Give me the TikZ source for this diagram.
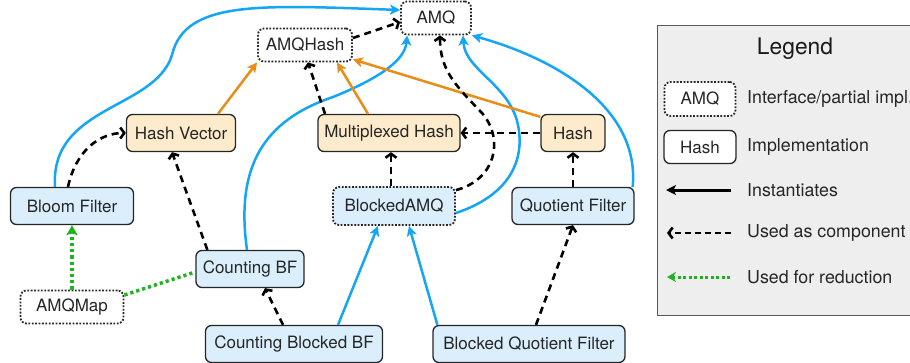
\documentclass[tikz,border=0pt]{standalone}
\usepackage{fontspec}
\setmainfont{TeX Gyre Heros}
\usetikzlibrary{arrows.meta}
\definecolor{filterblue}{HTML}{DAEEFC}
\definecolor{hashorange}{HTML}{FDEBCC}
\definecolor{linkblue}{HTML}{14A6F5}
\definecolor{linkorange}{HTML}{E88D17}
\definecolor{linkgreen}{HTML}{1FB31F}
\definecolor{legendgray}{HTML}{EEEEEE}
\begin{document}
\begin{tikzpicture}[x=1pt,y=-1pt,
    box/.style={draw=black!85,line width=1.3pt,rounded corners=6pt,inner sep=0pt,
        minimum height=37pt,text=black!85,font=\fontsize{17}{20}\selectfont},
    iface/.style={box,line width=1.8pt,dash pattern=on 1.8pt off 1.6pt},
    filterbox/.style={box,fill=filterblue},
    hashbox/.style={box,fill=hashorange},
    inst/.style={line width=2.5pt,-{Stealth[length=10pt,width=10pt,inset=2.5pt]}},
    uses/.style={line width=2.6pt,dash pattern=on 7pt off 5pt,
        -{Straight Barb[length=4pt,width=11pt]}},
    reduce/.style={line width=3.5pt,linkgreen,dash pattern=on 3.2pt off 3pt},
    keytext/.style={anchor=west,inner sep=0pt,text=black!85,font=\fontsize{17.8}{20}\selectfont}]
    \useasboundingbox (0,0) rectangle (910,362);

    \draw[draw=black!65,fill=legendgray,line width=1pt] (657,25) rectangle (915,315);
    \node[text=black!90,font=\fontsize{22.8}{26}\selectfont] (legendtitle) at (795,49) {Legend};
    \node[iface,fill=white,minimum width=71pt,minimum height=34pt] (keyiface) at (700,99) {AMQ};
    \node[keytext] (keyifacetext) at (747,99) {Interface/partial impl.};
    \node[box,fill=white,minimum width=72pt,minimum height=33pt] (keyimpl) at (700,147) {Hash};
    \node[keytext] (keyimpltext) at (747,147) {Implementation};
    \coordinate (instfrom) at (731,190);
    \coordinate (instto) at (666,190);
    \draw[inst,line width=3pt] (instfrom) -- (instto);
    \node[keytext] (insttext) at (747,190) {Instantiates};
    \coordinate (usesfrom) at (731,233);
    \coordinate (usesto) at (667,233);
    \draw[uses,dash pattern=on 6pt off 4pt] (usesfrom) -- (usesto);
    \node[keytext] (usestext) at (747,233) {Used as component};
    \coordinate (reducefrom) at (730,277);
    \coordinate (reduceto) at (667,277);
    \draw[reduce,line width=3pt,dash pattern=on 3pt off 2.5pt,-{Stealth[length=9pt,width=10pt,inset=3pt]}] (reducefrom) -- (reduceto);
    \node[keytext] (reducetext) at (747,277) {Used for reduction};

    \node[iface,fill=white,minimum width=70pt,minimum height=33pt] (amq) at (436,18) {AMQ};
    \node[iface,fill=white,minimum width=94pt,minimum height=33pt] (amqhash) at (305,45) {AMQHash};
    \node[hashbox,minimum width=109pt] (hashvec) at (181,133) {Hash Vector};
    \node[hashbox,minimum width=142pt] (muxhash) at (389,133) {Multiplexed Hash};
    \node[hashbox,minimum width=64pt] (hash) at (573,133) {Hash};
    \node[filterbox,minimum width=123pt] (bloom) at (72,206) {Bloom Filter};
    \node[iface,fill=filterblue,minimum width=122pt,minimum height=38pt] (blockedamq) at (394,206) {BlockedAMQ};
    \node[filterbox,minimum width=122pt] (quotient) at (573,206) {Quotient Filter};
    \node[filterbox,minimum width=108pt] (countbf) at (250,269) {Counting BF};
    \node[iface,fill=white,minimum width=103pt,minimum height=33pt] (amqmap) at (72,307) {AMQMap};
    \node[filterbox,minimum width=177pt] (countblocked) at (294,344) {Counting Blocked BF};
    \node[filterbox,minimum width=192pt] (blockedqf) at (529,344) {Blocked Quotient Filter};

    \draw[inst,linkblue] ([xshift=-17pt]bloom.north) .. controls (50,105) and (155,110) .. (172,55)
        .. controls (185,0) and (260,5) .. ([yshift=8pt]amq.west);
    \draw[inst,linkblue] ([xshift=-3pt]countbf.north) .. controls (235,165) and (265,120) .. (333,97)
        .. controls (380,78) and (405,60) .. ([xshift=7pt]amq.south west);
    \draw[inst,linkblue] ([yshift=-7pt]blockedamq.east) .. controls (510,195) and (525,160) .. (518,125)
        .. controls (510,85) and (465,70) .. ([xshift=27pt]amq.south);
    \draw[inst,linkblue] ([xshift=-2pt]quotient.north east) .. controls (640,110) and (560,60) .. (amq.south east);
    \draw[inst,linkblue] ([xshift=44pt]countblocked.north) -- ([xshift=-16pt]blockedamq.south);
    \draw[inst,linkblue] ([xshift=5pt]blockedqf.north west) -- ([xshift=15pt]blockedamq.south);

    \draw[inst,linkorange] ([xshift=37pt]hashvec.north) -- (amqhash.south west);
    \draw[inst,linkorange] ([xshift=-21pt]muxhash.north) -- ([xshift=32pt]amqhash.south);
    \draw[inst,linkorange] ([yshift=-3pt]hash.north west) -- ([yshift=3pt]amqhash.south east);

    \draw[uses] ([yshift=7pt]amqhash.east) -- ([yshift=-4pt]amq.west);
    \draw[uses] ([xshift=-64pt]muxhash.north) -- ([xshift=3pt]amqhash.south);
    \draw[uses] (hash.west) -- (muxhash.east);
    \draw[uses] ([xshift=-3pt]blockedamq.north) -- ([xshift=2pt]muxhash.south);
    \draw[uses] ([yshift=-4pt]blockedamq.north east) .. controls (495,180) and (505,140) .. (482,113)
        .. controls (455,85) and (440,70) .. ([xshift=4pt]amq.south);
    \draw[uses] ([xshift=-4pt]bloom.north) .. controls (76,150) and (100,133) .. (hashvec.west);
    \draw[uses] ([xshift=12pt]countbf.north west) -- ([xshift=-9pt]hashvec.south);
    \draw[uses] ([xshift=-11pt]countblocked.north) -- ([xshift=15pt]countbf.south);
    \draw[uses] (quotient.north) -- (hash.south);
    \draw[uses] ([xshift=7pt]blockedqf.north) -- (quotient.south);

    \draw[reduce,-{Stealth[length=10pt,width=11pt,inset=2pt]}] (amqmap.north) -- (bloom.south);
    \draw[reduce] ([yshift=12pt]amqmap.east) -- ([yshift=-3pt]countbf.west);
\end{tikzpicture}
\end{document}
